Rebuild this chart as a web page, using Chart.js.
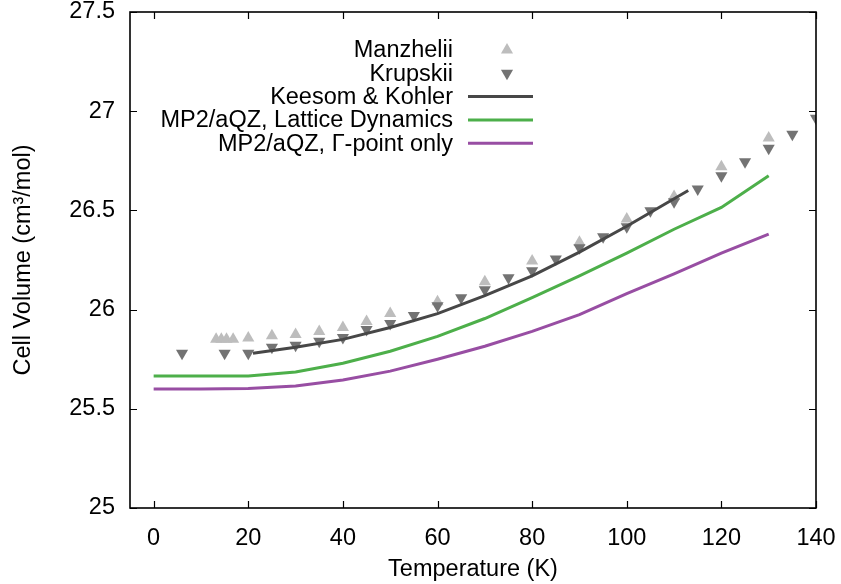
<!DOCTYPE html>
<html>
<head>
<meta charset="utf-8">
<script src="https://cdn.jsdelivr.net/npm/chart.js@4.4.1/dist/chart.umd.min.js"></script>
<style>
  html, body { margin: 0; padding: 0; background: #fff; }
</style>
</head>
<body>
<canvas id="volChart" width="841" height="584"></canvas>
<script>
// Measured data (Manzhelii, Krupskii)
const manzT = [13.2, 14.3, 15.4, 16.8, 20, 25, 30, 35, 40, 45, 50, 60, 70, 80, 90, 100, 110, 120, 130];
const manzV = [25.85, 25.85, 25.85, 25.85, 25.857, 25.868, 25.875, 25.89, 25.91, 25.94, 25.98, 26.04, 26.14, 26.245, 26.34, 26.457, 26.57, 26.72, 26.865];

const krupT = [6, 15, 20, 25, 30, 35, 40, 45, 50, 55, 60, 65, 70, 75, 80, 85, 90, 95, 100, 105, 110, 115, 120, 125, 130, 135, 140];
const krupV = [25.78, 25.78, 25.78, 25.81, 25.82, 25.84, 25.86, 25.90, 25.93, 25.97, 26.02, 26.06, 26.10, 26.16, 26.196, 26.255, 26.312, 26.367, 26.418, 26.498, 26.544, 26.608, 26.675, 26.745, 26.813, 26.884, 26.964];

// Keesom & Kohler curve
const keesT = [21, 30, 40, 50, 60, 70, 80, 90, 100, 113];
const keesV = [25.78, 25.81, 25.85, 25.91, 25.98, 26.07, 26.17, 26.29, 26.42, 26.60];

// MP2/aQZ calculations
const calcT = [0, 10, 20, 30, 40, 50, 60, 70, 80, 90, 100, 110, 120, 130];
const latticeV = [25.665, 25.665, 25.665, 25.685, 25.73, 25.79, 25.865, 25.955, 26.06, 26.17, 26.285, 26.405, 26.515, 26.675];
const gammaV = [25.60, 25.60, 25.602, 25.615, 25.645, 25.69, 25.75, 25.815, 25.89, 25.975, 26.08, 26.18, 26.285, 26.38];

const xTicks = [0, 20, 40, 60, 80, 100, 120, 140];
const yTicks = [25, 25.5, 26, 26.5, 27, 27.5];

const pts = (xs, ys) => xs.map((x, i) => ({ x: x, y: ys[i] }));

const FAMILY = "'Liberation Sans', Arial, sans-serif";
const FONT = { family: FAMILY, size: 23.5, lineHeight: 1.0 };

// gnuplot style frame with inward ticks on all sides
const frameTicks = {
    id: 'frameTicks',
    afterDatasetsDraw(chart) {
        const { ctx, chartArea: a, scales } = chart;
        const len = 7;
        ctx.save();
        ctx.strokeStyle = '#000';
        ctx.lineWidth = 1.2;
        ctx.beginPath();
        scales.x.ticks.forEach(t => {
            const px = Math.round(scales.x.getPixelForValue(t.value)) + 0.5;
            ctx.moveTo(px, a.bottom); ctx.lineTo(px, a.bottom - len);
            ctx.moveTo(px, a.top); ctx.lineTo(px, a.top + len);
        });
        scales.y.ticks.forEach(t => {
            const py = Math.round(scales.y.getPixelForValue(t.value)) + 0.5;
            ctx.moveTo(a.left, py); ctx.lineTo(a.left + len, py);
            ctx.moveTo(a.right, py); ctx.lineTo(a.right - len, py);
        });
        ctx.stroke();
        ctx.lineWidth = 1.6;
        ctx.strokeRect(a.left, a.top, a.right - a.left, a.bottom - a.top);
        ctx.restore();
    }
};

// legend: right aligned text, sample to the right (gnuplot key)
const keyLegend = {
    id: 'keyLegend',
    afterDraw(chart) {
        const { ctx } = chart;
        const textRight = 453, sampleL = 468, sampleR = 533, y0 = 50, dy = 23.3;
        ctx.save();
        ctx.font = "23.5px " + FAMILY;
        ctx.textAlign = 'right';
        ctx.textBaseline = 'middle';
        chart.data.datasets.forEach((ds, i) => {
            const y = y0 + i * dy;
            ctx.fillStyle = '#000';
            ctx.fillText(ds.label, textRight, y + 1);
            if (ds.showLine) {
                ctx.strokeStyle = ds.borderColor;
                ctx.lineWidth = ds.borderWidth;
                ctx.beginPath();
                ctx.moveTo(sampleL, y); ctx.lineTo(sampleR, y);
                ctx.stroke();
            } else {
                ctx.fillStyle = ds.backgroundColor;
                Chart.helpers.drawPoint(ctx, {
                    pointStyle: 'triangle', rotation: ds.rotation || 0,
                    radius: ds.pointRadius, borderWidth: 0
                }, 507, y);
            }
        });
        ctx.restore();
    }
};

const config = {
    type: 'scatter',
    data: {
        datasets: [
            { label: 'Manzhelii', data: pts(manzT, manzV), showLine: false, pointStyle: 'triangle',
              pointRadius: 7, backgroundColor: '#bdbdbd', borderColor: '#bdbdbd', borderWidth: 0, order: 5 },
            { label: 'Krupskii', data: pts(krupT, krupV), showLine: false, pointStyle: 'triangle', rotation: 180,
              pointRadius: 7, backgroundColor: '#737373', borderColor: '#737373', borderWidth: 0, order: 4 },
            { label: 'Keesom & Kohler', data: pts(keesT, keesV), showLine: true, pointRadius: 0,
              borderColor: '#474747', borderWidth: 3, order: 3 },
            { label: 'MP2/aQZ, Lattice Dynamics', data: pts(calcT, latticeV), showLine: true, pointRadius: 0,
              borderColor: '#4daf4a', borderWidth: 3, order: 2 },
            { label: 'MP2/aQZ, \u0393-point only', data: pts(calcT, gammaV), showLine: true, pointRadius: 0,
              borderColor: '#984ea3', borderWidth: 3, order: 1 }
        ]
    },
    options: {
        responsive: false,
        animation: false,
        layout: { padding: { top: 12, right: 25, left: 0, bottom: 0 } },
        plugins: { legend: { display: false }, tooltip: { enabled: false } },
        scales: {
            x: {
                type: 'linear', min: -5, max: 140,
                afterBuildTicks: s => { s.ticks = xTicks.map(v => ({ value: v })); },
                afterFit: s => { s.height = 76; s.paddingLeft = 0; s.paddingRight = 0; },
                grid: { display: false }, border: { display: false },
                ticks: { padding: 11, color: '#000', font: FONT, maxRotation: 0, autoSkip: false },
                title: { display: true, text: 'Temperature (K)', color: '#000', font: FONT, padding: { top: 0, bottom: 3 } }
            },
            y: {
                type: 'linear', min: 25, max: 27.5,
                afterBuildTicks: s => { s.ticks = yTicks.map(v => ({ value: v })); },
                afterFit: s => { s.width = 130; s.paddingTop = 0; s.paddingBottom = 0; },
                grid: { display: false }, border: { display: false },
                ticks: { padding: 7, color: '#000', font: FONT, callback: v => String(v) },
                title: { display: true, text: 'Cell Volume (cm\u00b3/mol)', color: '#000', font: FONT, padding: { top: 12, bottom: 0 } }
            }
        }
    },
    plugins: [frameTicks, keyLegend]
};

const ctx = document.getElementById('volChart').getContext('2d');
const volChart = new Chart(ctx, config);
</script>
</body>
</html>
